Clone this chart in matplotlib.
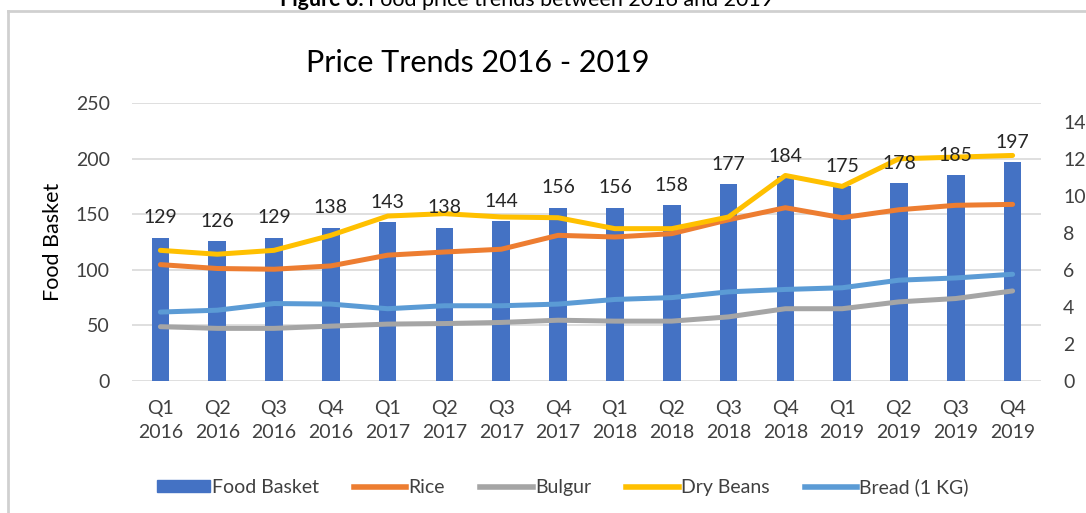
import matplotlib
matplotlib.use("Agg")
import matplotlib.pyplot as plt
from matplotlib.lines import Line2D

plt.rcParams['font.family'] = ['Lato', 'DejaVu Sans']

quarters = ["Q1\n2016", "Q2\n2016", "Q3\n2016", "Q4\n2016",
            "Q1\n2017", "Q2\n2017", "Q3\n2017", "Q4\n2017",
            "Q1\n2018", "Q2\n2018", "Q3\n2018", "Q4\n2018",
            "Q1\n2019", "Q2\n2019", "Q3\n2019", "Q4\n2019"]

food_basket = [129, 126, 129, 138, 143, 138, 144, 156,
               156, 158, 177, 184, 175, 178, 185, 197]
rice = [6.28, 6.07, 6.03, 6.21, 6.79, 6.96, 7.11, 7.86,
        7.77, 7.95, 8.70, 9.35, 8.81, 9.24, 9.48, 9.53]
bulgur = [2.93, 2.84, 2.84, 2.96, 3.07, 3.10, 3.16, 3.28,
          3.23, 3.23, 3.46, 3.90, 3.90, 4.27, 4.45, 4.86]
dry_beans = [7.05, 6.84, 7.05, 7.86, 8.90, 9.03, 8.85, 8.81,
             8.22, 8.22, 8.85, 11.09, 10.50, 11.99, 12.08, 12.17]
bread = [3.72, 3.82, 4.18, 4.15, 3.90, 4.06, 4.06, 4.15,
         4.40, 4.50, 4.81, 4.94, 5.03, 5.44, 5.56, 5.76]

left_ticks = [0, 50, 100, 150, 200, 250]
right_ticks = [0, 2, 4, 6, 8, 10, 12, 14]

C_BAR = "#4472C4"
C_RICE = "#ED7D31"
C_BULGUR = "#A5A5A5"
C_BEANS = "#FFC000"
C_BREAD = "#5B9BD5"
TXT = "#404040"

W, H = 1086, 513
fig = plt.figure(figsize=(W / 100, H / 100), dpi=100)
ax = fig.add_axes([132 / W, 1 - 381 / H, (1041 - 132) / W, (381 - 103) / H])

x = list(range(len(quarters)))
ax.bar(x, food_basket, width=0.31, color=C_BAR, zorder=2)
ax.set_ylim(0, 250)
ax.set_xlim(-0.5, len(quarters) - 0.5)
ax.set_yticks(left_ticks)
ax.set_xticks(x)
ax.set_xticklabels(quarters, fontsize=14, color=TXT, linespacing=1.45)
ax.tick_params(axis='both', length=0, labelsize=14, colors=TXT)
ax.tick_params(axis='y', pad=16)
ax.tick_params(axis='x', pad=14)
ax.grid(axis='y', color="#D9D9D9", linewidth=1.2, zorder=0)
ax.set_axisbelow(True)
for s in ax.spines.values():
    s.set_visible(False)
ax.set_ylabel("Food Basket", fontsize=15.5, color="#000000", labelpad=9)

ax2 = ax.twinx()
ax2.set_ylim(0, 15)
ax2.set_yticks(right_ticks)
ax2.tick_params(axis='y', length=0, labelsize=14, colors=TXT, pad=16)
for s in ax2.spines.values():
    s.set_visible(False)

lw = 3.6
ax2.plot(x, rice, color=C_RICE, lw=lw, solid_capstyle='round', zorder=3)
ax2.plot(x, bulgur, color=C_BULGUR, lw=lw, solid_capstyle='round', zorder=3)
ax2.plot(x, dry_beans, color=C_BEANS, lw=lw, solid_capstyle='round', zorder=3)
ax2.plot(x, bread, color=C_BREAD, lw=lw, solid_capstyle='round', zorder=3)

for xi, v in zip(x, food_basket):
    ax2.annotate(str(v), xy=(xi, v * 15 / 250), xytext=(0, 8),
                 textcoords='offset points', ha='center', va='bottom',
                 fontsize=14, color="#262626", zorder=4)

fig.text(478 / W, 1 - 63 / H, "Price Trends 2016 - 2019", fontsize=22,
         ha='center', va='center', color="#000000")

handles = [
    plt.Rectangle((0, 0), 1, 1, color=C_BAR),
    Line2D([], [], color=C_RICE, lw=4),
    Line2D([], [], color=C_BULGUR, lw=4),
    Line2D([], [], color=C_BEANS, lw=4),
    Line2D([], [], color=C_BREAD, lw=4),
]
labels = ["Food Basket", "Rice", "Bulgur", "Dry Beans", "Bread (1 KG)"]
fig.legend(handles, labels, loc='center', bbox_to_anchor=(563 / W, 1 - 487 / H),
           ncol=5, frameon=False, fontsize=14, handlelength=2.7,
           handleheight=0.55, handletextpad=0.12, columnspacing=1.8,
           labelcolor=TXT)

# chart frame
fig.add_artist(Line2D([8 / W, 8 / W], [0, 1 - 11 / H], transform=fig.transFigure,
                      color="#D0D0D0", lw=2))
fig.add_artist(Line2D([8 / W, 1], [1 - 11 / H, 1 - 11 / H], transform=fig.transFigure,
                      color="#D0D0D0", lw=2))

# caption above the frame
fig.text(364 / W, 1 - 6 / H, "Figure 6:", fontsize=15.5, fontweight='bold',
         ha='right', va='baseline', color="#000000")
fig.text(368 / W, 1 - 6 / H, "Food price trends between 2016 and 2019", fontsize=15.5,
         ha='left', va='baseline', color="#000000")

fig.savefig("out.png", dpi=100, facecolor="white")
